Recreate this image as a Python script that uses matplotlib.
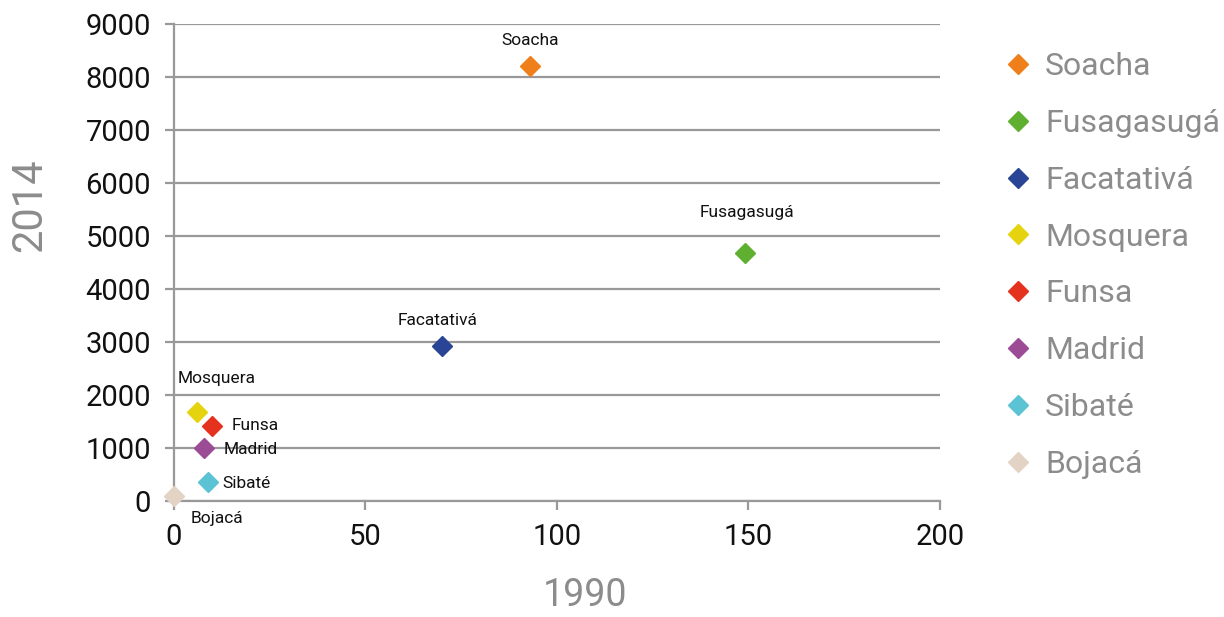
import matplotlib
matplotlib.use("Agg")
import matplotlib.pyplot as plt
from matplotlib.lines import Line2D

plt.rcParams['font.family'] = ['Roboto', 'DejaVu Sans']

names = ["Soacha", "Fusagasugá", "Facatativá", "Mosquera", "Funsa", "Madrid", "Sibaté", "Bojacá"]
x1990 = [93, 149, 70, 6, 10, 8, 9, 0]
y2014 = [8200, 4680, 2930, 1680, 1420, 1000, 360, 90]
colors = ["#ee7f1a", "#5fb030", "#2b4596", "#e5d30f", "#e5321f", "#9c4b95", "#5bc3d3", "#e3d3c5"]
# label offsets (points) and alignment
offsets = [(0, 19, "center"), (2, 29, "center"), (-3, 18, "center"), (14, 24, "center"),
           (14, 0, "left"), (14, -1, "left"), (10, -1, "left"), (12, -16, "left")]
xticks = [0, 50, 100, 150, 200]
yticks = [0, 1000, 2000, 3000, 4000, 5000, 6000, 7000, 8000, 9000]

fig = plt.figure(figsize=(12.24, 6.17), dpi=100)
ax = fig.add_axes([0.142, 0.188, 0.626, 0.773])

grey = "#999999"
for n, xv, yv, c in zip(names, x1990, y2014, colors):
    ax.plot([xv], [yv], linestyle="none", marker="D", ms=10.5, color=c, mec=c, clip_on=False, zorder=3)

for n, xv, yv, (dx, dy, ha) in zip(names, x1990, y2014, offsets):
    ax.annotate(n, (xv, yv), xytext=(dx, dy), textcoords="offset points",
                ha=ha, va="center", fontsize=12.5, color="#111111")

ax.set_xlim(0, 200)
ax.set_ylim(0, 9000)
ax.set_xticks(xticks)
ax.set_yticks(yticks)
ax.yaxis.grid(True, color=grey, lw=1.6)
ax.set_axisbelow(True)
for s in ["top", "right"]:
    ax.spines[s].set_visible(False)
for s in ["left", "bottom"]:
    ax.spines[s].set_color(grey)
    ax.spines[s].set_linewidth(1.6)
ax.tick_params(axis="both", colors=grey, width=1.6, length=6.5, labelcolor="#111111", labelsize=21)
ax.tick_params(axis="x", pad=9)
ax.tick_params(axis="y", pad=10)

fig.text(0.478, 0.035, "1990", fontsize=27, color="#8c8c8c", ha="center", va="center")
fig.text(0.024, 0.668, "2014", fontsize=30, color="#8c8c8c", ha="center", va="center", rotation=90)

handles = [Line2D([], [], linestyle="none", marker="D", ms=10, color=c) for c in colors]
leg = fig.legend(handles, names, loc="upper left", bbox_to_anchor=(0.795, 0.962), frameon=False,
                 fontsize=23, labelspacing=0.87, handlelength=1.0, handletextpad=0.35, labelcolor="#8c8c8c")

fig.savefig("out.png", dpi=100)
